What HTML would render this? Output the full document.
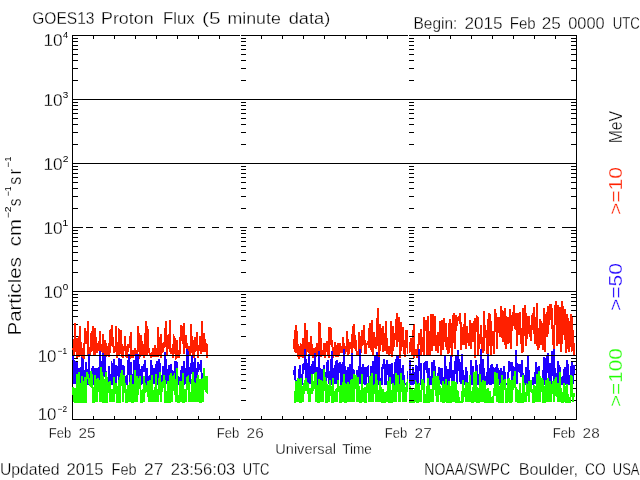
<!DOCTYPE html>
<html lang="en"><head><meta charset="utf-8"><title>GOES13 Proton Flux (5 minute data)</title>
<style>html,body{margin:0;padding:0;background:#fff;overflow:hidden}svg{display:block}text{font-family:"Liberation Sans",sans-serif;stroke:#fff;stroke-width:.28px}.sup{stroke:none}</style></head><body>
<svg width="640" height="480" viewBox="0 0 640 480">
<rect width="640" height="480" fill="#fff"/>
<g stroke="#000" stroke-width="1" fill="none" shape-rendering="crispEdges">
<rect x="72.5" y="35.5" width="504" height="384"/>
<path d="M93.5 36v3M93.5 419v-3M114.5 36v3M114.5 419v-3M135.5 36v3M135.5 419v-3M156.5 36v3M156.5 419v-3M177.5 36v3M177.5 419v-3M198.5 36v3M198.5 419v-3M219.5 36v3M219.5 419v-3M240.5 36v3M240.5 419v-3M261.5 36v3M261.5 419v-3M282.5 36v3M282.5 419v-3M303.5 36v3M303.5 419v-3M324.5 36v3M324.5 419v-3M345.5 36v3M345.5 419v-3M366.5 36v3M366.5 419v-3M387.5 36v3M387.5 419v-3M408.5 36v3M408.5 419v-3M429.5 36v3M429.5 419v-3M450.5 36v3M450.5 419v-3M471.5 36v3M471.5 419v-3M492.5 36v3M492.5 419v-3M513.5 36v3M513.5 419v-3M534.5 36v3M534.5 419v-3M555.5 36v3M555.5 419v-3"/>
<path d="M73 80.5h5M576 80.5h-5M73 68.5h5M576 68.5h-5M73 60.5h5M576 60.5h-5M73 54.5h5M576 54.5h-5M73 49.5h5M576 49.5h-5M73 45.5h5M576 45.5h-5M73 41.5h5M576 41.5h-5M73 38.5h5M576 38.5h-5M73 144.5h5M576 144.5h-5M73 132.5h5M576 132.5h-5M73 124.5h5M576 124.5h-5M73 118.5h5M576 118.5h-5M73 113.5h5M576 113.5h-5M73 109.5h5M576 109.5h-5M73 105.5h5M576 105.5h-5M73 102.5h5M576 102.5h-5M73 99.5h10M576 99.5h-10M73 208.5h5M576 208.5h-5M73 196.5h5M576 196.5h-5M73 188.5h5M576 188.5h-5M73 182.5h5M576 182.5h-5M73 177.5h5M576 177.5h-5M73 173.5h5M576 173.5h-5M73 169.5h5M576 169.5h-5M73 166.5h5M576 166.5h-5M73 163.5h10M576 163.5h-10M73 272.5h5M576 272.5h-5M73 260.5h5M576 260.5h-5M73 252.5h5M576 252.5h-5M73 246.5h5M576 246.5h-5M73 241.5h5M576 241.5h-5M73 237.5h5M576 237.5h-5M73 233.5h5M576 233.5h-5M73 230.5h5M576 230.5h-5M73 227.5h10M576 227.5h-10M73 336.5h5M576 336.5h-5M73 324.5h5M576 324.5h-5M73 316.5h5M576 316.5h-5M73 310.5h5M576 310.5h-5M73 305.5h5M576 305.5h-5M73 301.5h5M576 301.5h-5M73 297.5h5M576 297.5h-5M73 294.5h5M576 294.5h-5M73 291.5h10M576 291.5h-10M73 400.5h5M576 400.5h-5M73 388.5h5M576 388.5h-5M73 380.5h5M576 380.5h-5M73 374.5h5M576 374.5h-5M73 369.5h5M576 369.5h-5M73 365.5h5M576 365.5h-5M73 361.5h5M576 361.5h-5M73 358.5h5M576 358.5h-5M73 355.5h10M576 355.5h-10"/>
</g>
<g fill="none" stroke="#ff2000" stroke-width="2" stroke-linejoin="miter" shape-rendering="crispEdges">
<polyline points="73,348 74,351 74,355 75,323 75,349 76,352 77,338 77,358 78,356 78,355 79,357 79,347 80,326 81,356 81,350 82,358 82,356 83,348 83,356 84,359 85,328 85,339 86,344 86,332 87,342 88,321 88,355 89,347 89,356 90,355 91,349 91,334 92,334 92,331 93,351 93,326 94,356 95,328 95,355 96,343 96,337 97,348 97,353 98,345 99,344 99,351 100,331 100,358 101,345 102,345 102,350 103,354 103,334 104,356 105,357 105,340 106,347 106,357 107,352 107,347 108,347 109,348 109,357 110,330 110,353 111,329 111,346 112,325 113,347 113,340 114,351 114,353 115,351 116,345 116,326 117,358 117,351 118,353 119,356 119,330 120,331 120,354 121,346 121,330 122,356 123,358 123,347 124,350 124,351 125,342 125,336 126,355 127,358 127,357 128,344 128,352 129,344 130,347 130,341 131,332 131,357 132,356 133,350 133,358 134,353 134,354 135,348 135,351 136,351 137,357 137,358 138,346 138,326 139,352 139,333 140,356 141,354 141,335 142,346 142,356 143,344 144,358 144,358 145,354 145,346 146,321 147,330 147,355 148,329 148,353 149,348 149,352 150,354 151,354 151,358 152,356 152,353 153,353 153,348 154,356 155,356 155,345 156,351 156,353 157,356 158,356 158,327 159,347 159,355 160,349 161,334 161,358 162,348 162,345 163,344 163,352 164,345 165,347 165,328 166,336 166,321 167,348 167,355 168,342 169,347 169,349 170,320 170,349 171,354 172,348 172,350 173,358 173,352 174,337 175,339 175,349 176,358 176,358 177,357 177,340 178,358 179,351 179,358 180,350 180,350 181,325 181,341 182,326 183,341 183,344 184,323 184,354 185,342 186,347 186,335 187,356 187,343 188,356 189,348 189,346 190,356 190,350 191,351 191,324 192,347 193,340 193,355 194,358 194,346 195,337 195,352 196,349 197,332 197,349 198,353 198,358 199,345 200,349 200,336 201,351 201,354 202,321 203,352 203,345 204,351 204,333 205,345 205,352 206,344 207,345 207,358"/>
<polyline points="294,349 295,330 295,350 296,353 296,325 297,336 298,352 298,357 299,346 299,359 300,354 301,356 301,345 302,346 302,356 303,358 303,338 304,356 305,323 305,359 306,351 306,350 307,352 307,330 308,352 309,342 309,353 310,348 310,356 311,336 312,351 312,351 313,358 313,358 314,348 315,353 315,352 316,347 316,357 317,355 317,343 318,351 319,352 319,322 320,344 320,323 321,352 321,357 322,351 323,353 323,356 324,353 324,343 325,358 326,347 326,346 327,341 327,345 328,352 329,358 329,327 330,344 330,327 331,329 331,343 332,342 333,351 333,358 334,349 334,354 335,353 335,342 336,356 337,356 337,347 338,343 338,357 339,353 340,352 340,343 341,349 341,352 342,352 343,352 343,337 344,349 344,349 345,349 345,354 346,349 347,352 347,331 348,347 348,356 349,345 349,354 350,342 351,345 351,344 352,353 352,339 353,329 354,324 354,347 355,348 355,335 356,345 357,356 357,356 358,353 358,352 359,356 359,332 360,353 361,352 361,343 362,330 362,346 363,333 363,345 364,325 365,354 365,352 366,354 366,344 367,344 368,344 368,341 369,348 369,334 370,323 371,348 371,350 372,320 372,347 373,356 373,347 374,332 375,348 375,337 376,349 376,346 377,345 377,329 378,308 379,357 379,356 380,324 380,351 381,339 382,339 382,330 383,326 383,352 384,345 385,351 385,336 386,330 386,321 387,354 387,354 388,349 389,356 389,346 390,351 390,354 391,340 391,321 392,357 393,346 393,326 394,347 394,347 395,333 396,336 396,326 397,313 397,347 398,338 399,335 399,317 400,358 400,338 401,351 401,322 402,334 403,347 403,327 404,353 404,350 405,357 405,350 406,330 407,347 407,341 408,354 408,330 409,353 410,350 410,348 411,338 411,344 412,355 413,332 413,337 414,324 414,358 415,353 415,356 416,349 417,358 417,350 418,349 418,347 419,342 419,333 420,341 421,329 421,356 422,348 422,337 423,346 424,355 424,317 425,323 425,325 426,331 427,320 427,355 428,350 428,316 429,346 429,356 430,354 431,314 431,337 432,351 432,325 433,314 433,341 434,346 435,330 435,316 436,351 436,337 437,350 438,332 438,353 439,336 439,346 440,321 441,356 441,355 442,320 442,328 443,350 443,338 444,318 445,340 445,337 446,347 446,323 447,350 447,339 448,354 449,323 449,353 450,343 450,319 451,327 452,357 452,346 453,315 453,343 454,313 455,329 455,349 456,315 456,316 457,326 457,317 458,319 459,316 459,320 460,313 460,324 461,322 461,350 462,339 463,327 463,344 464,344 464,336 465,313 466,349 466,333 467,341 467,326 468,343 469,339 469,346 470,320 470,339 471,331 471,349 472,323 473,328 473,342 474,324 474,321 475,358 475,318 476,332 477,329 477,317 478,318 478,356 479,343 480,343 480,344 481,325 481,339 482,345 483,353 483,337 484,351 484,311 485,338 485,326 486,333 487,336 487,354 488,319 488,354 489,339 489,313 490,316 491,326 491,355 492,337 492,335 493,331 494,341 494,354 495,309 495,309 496,316 497,346 497,349 498,319 498,318 499,318 499,324 500,337 501,310 501,306 502,314 502,333 503,342 503,311 504,326 505,308 505,340 506,349 506,316 507,334 508,317 508,344 509,328 509,343 510,309 511,320 511,349 512,315 512,322 513,326 513,320 514,305 515,329 515,316 516,315 516,313 517,346 517,321 518,313 519,320 519,335 520,314 520,312 521,344 522,329 522,353 523,350 523,308 524,336 525,316 525,305 526,321 526,346 527,333 527,316 528,334 529,331 529,316 530,337 530,335 531,325 531,341 532,318 533,313 533,326 534,334 534,307 535,344 536,341 536,317 537,346 537,303 538,350 539,332 539,348 540,336 540,319 541,345 541,321 542,332 543,350 543,338 544,308 544,316 545,350 545,352 546,314 547,337 547,318 548,306 548,334 549,316 550,304 550,304 551,320 551,304 552,312 553,345 553,333 554,349 554,343 555,308 555,309 556,301 557,319 557,346 558,317 558,305 559,344 559,312 560,307 561,349 561,352 562,301 562,344 563,306 564,316 564,335 565,309 565,327 566,353 567,345 567,314 568,334 568,318 569,352 569,326 570,328 571,314 571,347 572,317 572,350 573,349 573,330 574,355"/>
</g>
<g fill="none" stroke="#2000ff" stroke-width="2" stroke-linejoin="miter" shape-rendering="crispEdges">
<polyline points="73,355 74,365 74,384 75,361 75,384 76,366 77,384 77,362 78,384 78,384 79,368 79,384 80,384 81,384 81,367 82,384 82,359 83,360 83,370 84,384 85,370 85,384 86,384 86,362 87,384 88,384 88,384 89,354 89,368 90,384 91,384 91,384 92,384 92,370 93,366 93,371 94,384 95,384 95,368 96,372 96,384 97,384 97,368 98,384 99,367 99,384 100,351 100,384 101,384 102,384 102,369 103,353 103,384 104,370 105,368 105,356 106,384 106,384 107,384 107,384 108,384 109,384 109,366 110,384 110,384 111,384 111,384 112,364 113,366 113,384 114,384 114,359 115,384 116,384 116,365 117,368 117,368 118,367 119,384 119,358 120,367 120,384 121,368 121,359 122,373 123,372 123,365 124,369 124,366 125,384 125,384 126,384 127,384 127,384 128,367 128,367 129,354 130,384 130,365 131,384 131,362 132,384 133,384 133,384 134,384 134,360 135,384 135,368 136,354 137,384 137,384 138,354 138,384 139,372 139,364 140,384 141,384 141,369 142,384 142,366 143,369 144,364 144,367 145,367 145,360 146,384 147,384 147,368 148,384 148,384 149,384 149,384 150,384 151,367 151,360 152,370 152,367 153,384 153,384 154,368 155,384 155,369 156,384 156,366 157,363 158,366 158,384 159,384 159,359 160,366 161,384 161,376 162,384 162,384 163,375 163,366 164,384 165,384 165,352 166,366 166,384 167,369 167,370 168,384 169,365 169,384 170,384 170,384 171,364 172,375 172,384 173,384 173,371 174,384 175,384 175,361 176,384 176,361 177,364 177,368 178,384 179,384 179,384 180,384 180,384 181,370 181,384 182,366 183,384 183,384 184,384 184,361 185,384 186,368 186,370 187,384 187,349 188,353 189,384 189,384 190,367 190,384 191,365 191,370 192,356 193,367 193,384 194,363 194,384 195,358 195,384 196,384 197,368 197,384 198,362 198,371 199,369 200,364 200,368 201,372 201,360 202,384 203,384 203,384 204,384 204,384 205,384 205,384 206,384 207,384 207,384"/>
<polyline points="294,375 295,366 295,375 296,384 296,384 297,384 298,384 298,384 299,384 299,373 300,365 301,384 301,384 302,384 302,384 303,364 303,373 304,367 305,359 305,349 306,368 306,384 307,366 307,384 308,363 309,384 309,354 310,384 310,366 311,384 312,364 312,384 313,361 313,366 314,374 315,353 315,384 316,374 316,384 317,367 317,368 318,384 319,384 319,351 320,384 320,369 321,384 321,373 322,369 323,384 323,384 324,365 324,366 325,384 326,384 326,372 327,378 327,365 328,360 329,384 329,371 330,384 330,384 331,384 331,367 332,351 333,384 333,384 334,368 334,372 335,384 335,368 336,362 337,360 337,384 338,367 338,384 339,363 340,369 340,362 341,366 341,384 342,384 343,362 343,384 344,349 344,366 345,384 345,366 346,384 347,370 347,373 348,384 348,367 349,384 349,384 350,364 351,375 351,384 352,353 352,384 353,369 354,384 354,370 355,384 355,384 356,384 357,384 357,370 358,373 358,371 359,384 359,384 360,349 361,384 361,370 362,384 362,370 363,364 363,365 364,384 365,367 365,384 366,384 366,384 367,368 368,367 368,369 369,384 369,384 370,384 371,368 371,366 372,384 372,384 373,384 373,361 374,384 375,355 375,384 376,384 376,384 377,352 377,384 378,384 379,357 379,371 380,384 380,384 381,384 382,384 382,370 383,364 383,369 384,359 385,369 385,384 386,384 386,368 387,360 387,363 388,365 389,384 389,374 390,384 390,364 391,384 391,366 392,363 393,384 393,384 394,384 394,384 395,365 396,359 396,369 397,384 397,357 398,357 399,384 399,360 400,360 400,370 401,368 401,384 402,384 403,384 403,365 404,384 404,384 405,384 405,384 406,384 407,384 407,384 408,384 408,371 409,384 410,371 410,360 411,384 411,384 412,384 413,384 413,367 414,384 414,384 415,372 415,384 416,365 417,384 417,384 418,366 418,384 419,349 419,371 420,366 421,363 421,384 422,384 422,384 423,384 424,384 424,365 425,362 425,370 426,361 427,371 427,361 428,384 428,384 429,384 429,368 430,384 431,384 431,384 432,384 432,362 433,384 433,366 434,360 435,371 435,372 436,384 436,384 437,384 438,384 438,373 439,384 439,367 440,384 441,368 441,384 442,368 442,384 443,384 443,384 444,384 445,370 445,355 446,384 446,366 447,372 447,384 448,384 449,369 449,384 450,372 450,369 451,355 452,384 452,384 453,370 453,384 454,384 455,364 455,366 456,356 456,362 457,366 457,384 458,350 459,367 459,371 460,362 460,380 461,384 461,384 462,354 463,384 463,384 464,384 464,384 465,384 466,367 466,372 467,372 467,384 468,384 469,384 469,384 470,384 470,384 471,384 471,360 472,384 473,366 473,384 474,384 474,384 475,373 475,384 476,360 477,370 477,384 478,384 478,384 479,384 480,364 480,384 481,349 481,384 482,366 483,384 483,359 484,384 484,368 485,384 485,384 486,384 487,384 487,384 488,360 488,354 489,384 489,368 490,384 491,384 491,365 492,384 492,364 493,370 494,384 494,380 495,369 495,370 496,367 497,384 497,364 498,384 498,368 499,373 499,384 500,384 501,384 501,368 502,384 502,384 503,371 503,384 504,366 505,377 505,384 506,384 506,384 507,384 508,384 508,384 509,361 509,370 510,370 511,368 511,363 512,363 512,384 513,366 513,384 514,384 515,368 515,384 516,350 516,363 517,384 517,363 518,370 519,371 519,365 520,365 520,364 521,377 522,369 522,360 523,384 523,384 524,384 525,384 525,384 526,367 526,384 527,371 527,384 528,355 529,384 529,384 530,384 530,384 531,384 531,384 532,384 533,384 533,377 534,384 534,384 535,372 536,384 536,362 537,384 537,384 538,367 539,384 539,366 540,384 540,384 541,384 541,384 542,384 543,384 543,384 544,357 544,384 545,358 545,384 546,384 547,356 547,366 548,353 548,362 549,384 550,366 550,363 551,384 551,384 552,351 553,369 553,368 554,384 554,349 555,384 555,384 556,384 557,384 557,384 558,362 558,361 559,384 559,365 560,370 561,384 561,384 562,384 562,384 563,384 564,369 564,384 565,384 565,367 566,384 567,360 567,365 568,384 568,364 569,384 569,384 570,384 571,366 571,384 572,362 572,384 573,366 573,384 574,365"/>
</g>
<g fill="none" stroke="#20ff00" stroke-width="2" stroke-linejoin="miter" shape-rendering="crispEdges">
<polyline points="73,387 74,402 74,388 75,402 75,402 76,402 77,374 77,402 78,402 78,388 79,402 79,372 80,402 81,402 81,390 82,376 82,402 83,402 83,402 84,386 85,377 85,402 86,402 86,386 87,372 88,376 88,376 89,381 89,383 90,385 91,381 91,371 92,378 92,384 93,391 93,402 94,402 95,375 95,402 96,391 96,379 97,402 97,391 98,378 99,382 99,381 100,402 100,402 101,367 102,377 102,402 103,376 103,402 104,402 105,402 105,386 106,372 106,402 107,402 107,377 108,387 109,383 109,383 110,402 110,381 111,402 111,402 112,389 113,402 113,402 114,377 114,402 115,386 116,386 116,383 117,390 117,402 118,402 119,380 119,402 120,402 120,377 121,382 121,376 122,370 123,402 123,379 124,392 124,375 125,390 125,383 126,402 127,402 127,389 128,402 128,385 129,402 130,384 130,382 131,402 131,375 132,402 133,402 133,384 134,402 134,402 135,370 135,402 136,380 137,376 137,402 138,388 138,381 139,379 139,380 140,376 141,402 141,402 142,402 142,393 143,402 144,376 144,402 145,383 145,392 146,391 147,386 147,390 148,381 148,392 149,402 149,402 150,380 151,385 151,402 152,375 152,386 153,402 153,402 154,393 155,387 155,402 156,382 156,374 157,402 158,393 158,402 159,388 159,384 160,372 161,402 161,402 162,382 162,384 163,388 163,387 164,375 165,384 165,402 166,402 166,402 167,402 167,402 168,381 169,402 169,402 170,402 170,378 171,373 172,402 172,376 173,391 173,378 174,376 175,383 175,388 176,402 176,391 177,368 177,388 178,402 179,402 179,402 180,388 180,382 181,382 181,402 182,390 183,373 183,402 184,402 184,389 185,402 186,389 186,402 187,379 187,378 188,377 189,387 189,402 190,392 190,392 191,402 191,402 192,386 193,372 193,402 194,382 194,392 195,402 195,383 196,390 197,378 197,402 198,375 198,387 199,402 200,379 200,402 201,402 201,381 202,380 203,392 203,402 204,379 204,368 205,388 205,376 206,391 207,392 207,376"/>
<polyline points="294,402 295,402 295,402 296,381 296,386 297,402 298,378 298,402 299,379 299,390 300,402 301,402 301,378 302,402 302,390 303,386 303,402 304,386 305,381 305,382 306,378 306,391 307,382 307,388 308,386 309,402 309,393 310,402 310,388 311,393 312,393 312,374 313,387 313,391 314,386 315,377 315,373 316,402 316,372 317,402 317,385 318,402 319,402 319,379 320,389 320,387 321,380 321,402 322,381 323,387 323,402 324,381 324,369 325,384 326,383 326,402 327,402 327,384 328,387 329,390 329,402 330,391 330,380 331,391 331,387 332,402 333,402 333,378 334,402 334,402 335,391 335,402 336,389 337,402 337,388 338,391 338,380 339,391 340,392 340,402 341,402 341,385 342,392 343,402 343,382 344,389 344,374 345,392 345,402 346,402 347,384 347,402 348,382 348,393 349,402 349,384 350,393 351,402 351,381 352,379 352,402 353,381 354,402 354,374 355,389 355,381 356,375 357,402 357,389 358,377 358,377 359,402 359,386 360,402 361,402 361,392 362,389 362,374 363,402 363,390 364,389 365,387 365,402 366,402 366,391 367,384 368,391 368,383 369,402 369,393 370,376 371,393 371,402 372,373 372,387 373,393 373,402 374,387 375,388 375,384 376,402 376,374 377,402 377,380 378,402 379,390 379,402 380,381 380,402 381,387 382,402 382,402 383,402 383,389 384,402 385,402 385,392 386,402 386,392 387,402 387,402 388,381 389,402 389,402 390,402 390,377 391,402 391,402 392,402 393,383 393,384 394,387 394,402 395,391 396,402 396,373 397,392 397,379 398,375 399,402 399,384 400,402 400,387 401,384 401,373 402,392 403,380 403,402 404,383 404,386 405,402 405,387 406,402 407,382 407,387 408,379 408,389 409,383 410,390 410,402 411,402 411,402 412,388 413,402 413,402 414,402 414,390 415,402 415,393 416,383 417,385 417,402 418,402 418,388 419,383 419,402 420,391 421,402 421,402 422,379 422,385 423,380 424,386 424,402 425,402 425,402 426,402 427,386 427,402 428,378 428,402 429,402 429,385 430,402 431,389 431,402 432,393 432,391 433,402 433,386 434,371 435,390 435,388 436,376 436,389 437,402 438,376 438,402 439,388 439,380 440,391 441,390 441,402 442,392 442,402 443,381 443,402 444,402 445,384 445,402 446,389 446,379 447,391 447,402 448,402 449,402 449,381 450,391 450,402 451,402 452,381 452,392 453,402 453,402 454,381 455,402 455,402 456,382 456,402 457,402 457,391 458,392 459,402 459,402 460,402 460,402 461,402 461,402 462,402 463,380 463,402 464,388 464,394 465,391 466,402 466,382 467,394 467,402 468,384 469,383 469,402 470,375 470,387 471,402 471,391 472,402 473,402 473,402 474,372 474,394 475,402 475,384 476,371 477,402 477,402 478,402 478,402 479,402 480,374 480,378 481,402 481,382 482,387 483,380 483,402 484,388 484,382 485,382 485,402 486,402 487,389 487,402 488,388 488,402 489,402 489,402 490,391 491,402 491,402 492,402 492,402 493,402 494,390 494,388 495,390 495,372 496,389 497,402 497,373 498,384 498,388 499,386 499,402 500,402 501,402 501,391 502,375 502,402 503,402 503,394 504,381 505,379 505,389 506,389 506,402 507,402 508,382 508,379 509,402 509,378 510,402 511,402 511,380 512,392 512,402 513,380 513,385 514,376 515,388 515,371 516,402 516,389 517,390 517,392 518,402 519,402 519,390 520,402 520,383 521,402 522,402 522,402 523,402 523,375 524,390 525,402 525,402 526,392 526,402 527,390 527,385 528,386 529,402 529,381 530,387 530,387 531,380 531,391 532,392 533,389 533,402 534,402 534,385 535,387 536,402 536,388 537,402 537,374 538,402 539,371 539,402 540,376 540,402 541,382 541,383 542,378 543,382 543,402 544,402 544,402 545,402 545,393 546,380 547,402 547,389 548,381 548,378 549,402 550,389 550,381 551,387 551,402 552,387 553,392 553,381 554,392 554,402 555,391 555,382 556,377 557,388 557,391 558,402 558,385 559,402 559,394 560,372 561,402 561,388 562,402 562,402 563,402 564,383 564,402 565,386 565,393 566,402 567,402 567,384 568,402 568,402 569,402 569,402 570,402 571,393 571,375 572,377 572,390 573,402 573,402 574,393"/>
</g>
<g stroke-width="1" fill="none" shape-rendering="crispEdges">
<path stroke="#fff" d="M240.5 35V420"/>
<path stroke="#000" d="M241 80.5h5M241 68.5h5M241 60.5h5M241 54.5h5M241 49.5h5M241 45.5h5M241 41.5h5M241 38.5h5M241 144.5h5M241 132.5h5M241 124.5h5M241 118.5h5M241 113.5h5M241 109.5h5M241 105.5h5M241 102.5h5M241 208.5h5M241 196.5h5M241 188.5h5M241 182.5h5M241 177.5h5M241 173.5h5M241 169.5h5M241 166.5h5M241 272.5h5M241 260.5h5M241 252.5h5M241 246.5h5M241 241.5h5M241 237.5h5M241 233.5h5M241 230.5h5M241 336.5h5M241 324.5h5M241 316.5h5M241 310.5h5M241 305.5h5M241 301.5h5M241 297.5h5M241 294.5h5M241 400.5h5M241 388.5h5M241 380.5h5M241 374.5h5M241 369.5h5M241 365.5h5M241 361.5h5M241 358.5h5"/>
<path stroke="#fff" d="M408.5 35V420"/>
<path stroke="#000" d="M409 80.5h5M409 68.5h5M409 60.5h5M409 54.5h5M409 49.5h5M409 45.5h5M409 41.5h5M409 38.5h5M409 144.5h5M409 132.5h5M409 124.5h5M409 118.5h5M409 113.5h5M409 109.5h5M409 105.5h5M409 102.5h5M409 208.5h5M409 196.5h5M409 188.5h5M409 182.5h5M409 177.5h5M409 173.5h5M409 169.5h5M409 166.5h5M409 272.5h5M409 260.5h5M409 252.5h5M409 246.5h5M409 241.5h5M409 237.5h5M409 233.5h5M409 230.5h5M409 336.5h5M409 324.5h5M409 316.5h5M409 310.5h5M409 305.5h5M409 301.5h5M409 297.5h5M409 294.5h5M409 400.5h5M409 388.5h5M409 380.5h5M409 374.5h5M409 369.5h5M409 365.5h5M409 361.5h5M409 358.5h5"/>
<path stroke="#000" d="M72 99.5H577"/>
<path stroke="#000" d="M72 163.5H577"/>
<path stroke="#000" d="M72 291.5H577"/>
<path stroke="#000" d="M72 355.5H577"/>
<path stroke="#000" stroke-dasharray="7 7" d="M72 227.5H577"/>
</g>
<mask id="tm"><rect width="640" height="480" fill="#fff"/></mask><g mask="url(#tm)">
<text><tspan x="32.22" y="24" font-size="17.4" textLength="62.22" lengthAdjust="spacingAndGlyphs">GOES13</tspan> <tspan x="101.04" y="24" font-size="17.4" textLength="52.52" lengthAdjust="spacingAndGlyphs">Proton</tspan> <tspan x="162.92" y="24" font-size="17.4" textLength="31.76" lengthAdjust="spacingAndGlyphs">Flux</tspan> <tspan x="202.1" y="24" font-size="17.4" textLength="18.57" lengthAdjust="spacingAndGlyphs">(5</tspan> <tspan x="227.52" y="24" font-size="17.4" textLength="53.27" lengthAdjust="spacingAndGlyphs">minute</tspan> <tspan x="288.74" y="24" font-size="17.4" textLength="41.49" lengthAdjust="spacingAndGlyphs">data)</tspan></text>
<text><tspan x="413.53" y="29" font-size="16" textLength="43.78" lengthAdjust="spacingAndGlyphs">Begin:</tspan> <tspan x="464.44" y="29" font-size="16" textLength="38.18" lengthAdjust="spacingAndGlyphs">2015</tspan> <tspan x="509.77" y="29" font-size="16" textLength="25.86" lengthAdjust="spacingAndGlyphs">Feb</tspan> <tspan x="541.84" y="29" font-size="16" textLength="19.08" lengthAdjust="spacingAndGlyphs">25</tspan> <tspan x="568.26" y="29" font-size="16" textLength="36.38" lengthAdjust="spacingAndGlyphs">0000</tspan> <tspan x="612.78" y="29" font-size="16" textLength="27.12" lengthAdjust="spacingAndGlyphs">UTC</tspan></text>
<text><tspan x="-0.12" y="475" font-size="16" textLength="59.74" lengthAdjust="spacingAndGlyphs">Updated</tspan> <tspan x="66.57" y="475" font-size="16" textLength="36.93" lengthAdjust="spacingAndGlyphs">2015</tspan> <tspan x="111.5" y="475" font-size="16" textLength="25.11" lengthAdjust="spacingAndGlyphs">Feb</tspan> <tspan x="144.03" y="475" font-size="16" textLength="19.24" lengthAdjust="spacingAndGlyphs">27</tspan> <tspan x="170.77" y="475" font-size="16" textLength="64.56" lengthAdjust="spacingAndGlyphs">23:56:03</tspan> <tspan x="242.8" y="475" font-size="16" textLength="26.59" lengthAdjust="spacingAndGlyphs">UTC</tspan></text>
<text><tspan x="424.35" y="475" font-size="16" textLength="85.68" lengthAdjust="spacingAndGlyphs">NOAA/SWPC</tspan> <tspan x="518.8" y="475" font-size="16" textLength="59.23" lengthAdjust="spacingAndGlyphs">Boulder,</tspan> <tspan x="585.1" y="475" font-size="16" textLength="20.55" lengthAdjust="spacingAndGlyphs">CO</tspan> <tspan x="612.8" y="475" font-size="16" textLength="26.62" lengthAdjust="spacingAndGlyphs">USA</tspan></text>
<text><tspan x="275.28" y="454" font-size="14.5" textLength="60.7" lengthAdjust="spacingAndGlyphs">Universal</tspan> <tspan x="342.2" y="454" font-size="14.5" textLength="29.64" lengthAdjust="spacingAndGlyphs">Time</tspan></text>
<text><tspan x="48.73" y="438" font-size="14.5" textLength="22.41" lengthAdjust="spacingAndGlyphs">Feb</tspan> <tspan x="78.63" y="438" font-size="14.5" textLength="17.01" lengthAdjust="spacingAndGlyphs">25</tspan></text>
<text><tspan x="216.73" y="438" font-size="14.5" textLength="22.41" lengthAdjust="spacingAndGlyphs">Feb</tspan> <tspan x="246.63" y="438" font-size="14.5" textLength="17.04" lengthAdjust="spacingAndGlyphs">26</tspan></text>
<text><tspan x="384.73" y="438" font-size="14.5" textLength="22.41" lengthAdjust="spacingAndGlyphs">Feb</tspan> <tspan x="414.62" y="438" font-size="14.5" textLength="17.15" lengthAdjust="spacingAndGlyphs">27</tspan></text>
<text><tspan x="552.73" y="438" font-size="14.5" textLength="22.41" lengthAdjust="spacingAndGlyphs">Feb</tspan> <tspan x="582.63" y="438" font-size="14.5" textLength="17.04" lengthAdjust="spacingAndGlyphs">28</tspan></text>
<text><tspan x="43.49" y="46" font-size="17.4" textLength="19.19" lengthAdjust="spacingAndGlyphs">10</tspan><tspan x="62.99" y="38.2" font-size="9" textLength="5.19" lengthAdjust="spacingAndGlyphs" class="sup">4</tspan></text>
<text><tspan x="43.49" y="106" font-size="17.4" textLength="19.19" lengthAdjust="spacingAndGlyphs">10</tspan><tspan x="62.82" y="98.2" font-size="9" textLength="5.51" lengthAdjust="spacingAndGlyphs" class="sup">3</tspan></text>
<text><tspan x="43.49" y="170" font-size="17.4" textLength="19.19" lengthAdjust="spacingAndGlyphs">10</tspan><tspan x="62.68" y="162.2" font-size="9" textLength="5.74" lengthAdjust="spacingAndGlyphs" class="sup">2</tspan></text>
<text><tspan x="43.49" y="234" font-size="17.4" textLength="19.19" lengthAdjust="spacingAndGlyphs">10</tspan><tspan x="62.37" y="226.2" font-size="9" textLength="6.06" lengthAdjust="spacingAndGlyphs" class="sup">1</tspan></text>
<text><tspan x="43.49" y="298" font-size="17.4" textLength="19.19" lengthAdjust="spacingAndGlyphs">10</tspan><tspan x="62.82" y="290.2" font-size="9" textLength="5.47" lengthAdjust="spacingAndGlyphs" class="sup">0</tspan></text>
<text><tspan x="37.72" y="362" font-size="17.4" textLength="18.74" lengthAdjust="spacingAndGlyphs">10</tspan><tspan x="57.59" y="354.2" font-size="9" textLength="9.41" lengthAdjust="spacingAndGlyphs" class="sup">&#8722;1</tspan></text>
<text><tspan x="37.72" y="420" font-size="17.4" textLength="18.74" lengthAdjust="spacingAndGlyphs">10</tspan><tspan x="57.59" y="412.2" font-size="9" textLength="9.42" lengthAdjust="spacingAndGlyphs" class="sup">&#8722;2</tspan></text>
<g transform="translate(20.6,334) rotate(-90)">
<text><tspan x="-1.48" y="0" font-size="18.9" textLength="78.42" lengthAdjust="spacingAndGlyphs">Particles</tspan> <tspan x="87.73" y="0" font-size="18.9" textLength="27.21" lengthAdjust="spacingAndGlyphs">cm</tspan><tspan x="115.69" y="-9.2" font-size="9" textLength="11.83" lengthAdjust="spacingAndGlyphs" class="sup">&#8722;2</tspan><tspan x="127.77" y="0" font-size="18.9" textLength="7.8" lengthAdjust="spacingAndGlyphs">s</tspan><tspan x="137.78" y="-9.2" font-size="9" textLength="9.74" lengthAdjust="spacingAndGlyphs" class="sup">&#8722;1</tspan><tspan x="149.35" y="0" font-size="18.9" textLength="8.03" lengthAdjust="spacingAndGlyphs">s</tspan><tspan x="159.48" y="0" font-size="18.9" textLength="5.59" lengthAdjust="spacingAndGlyphs">r</tspan><tspan x="166.63" y="-9.2" font-size="9" textLength="10.83" lengthAdjust="spacingAndGlyphs" class="sup">&#8722;1</tspan></text>
</g>
<g transform="translate(622.3,142) rotate(-90)"><text><tspan x="-1.29" y="0" font-size="18.9" textLength="32.36" lengthAdjust="spacingAndGlyphs">MeV</tspan></text></g>
<g transform="translate(622.3,214) rotate(-90)"><text fill="#ff2000"><tspan x="-1.03" y="0" font-size="18.9" textLength="47.85" lengthAdjust="spacingAndGlyphs">&gt;=10</tspan></text></g>
<g transform="translate(622.3,310) rotate(-90)"><text fill="#2000ff"><tspan x="-1.03" y="0" font-size="18.9" textLength="47.85" lengthAdjust="spacingAndGlyphs">&gt;=50</tspan></text></g>
<g transform="translate(622.3,406) rotate(-90)"><text fill="#20ff00"><tspan x="-1.02" y="0" font-size="18.9" textLength="58.83" lengthAdjust="spacingAndGlyphs">&gt;=100</tspan></text></g>
</g>
</svg></body></html>
